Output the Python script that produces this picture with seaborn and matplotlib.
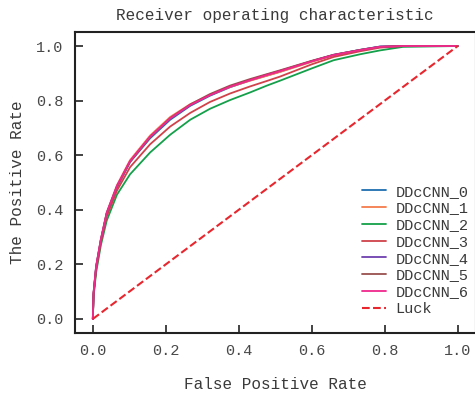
import numpy as np
import pandas as pd
import matplotlib
matplotlib.use("Agg")
import matplotlib.pyplot as plt
import seaborn as sns

# ---- data ----
fpr = [0, 0.002, 0.009, 0.022, 0.038, 0.066, 0.102, 0.157, 0.212, 0.267, 0.321,
       0.376, 0.431, 0.477, 0.513, 0.6, 0.66, 0.733, 0.787, 0.85, 1.0]

tpr_0 = [0, 0.092, 0.188, 0.288, 0.385, 0.482, 0.575, 0.662, 0.73, 0.781, 0.818,
         0.849, 0.874, 0.892, 0.906, 0.944, 0.967, 0.986, 0.998, 1.0, 1.0]
tpr_1 = [0, 0.094, 0.19, 0.292, 0.39, 0.49, 0.582, 0.672, 0.74, 0.787, 0.821,
         0.85, 0.873, 0.891, 0.905, 0.942, 0.966, 0.985, 0.997, 1.0, 1.0]
tpr_2 = [0, 0.08, 0.17, 0.27, 0.36, 0.455, 0.53, 0.61, 0.675, 0.73, 0.77,
         0.802, 0.83, 0.855, 0.873, 0.918, 0.948, 0.97, 0.984, 0.997, 1.0]
tpr_3 = [0, 0.09, 0.18, 0.28, 0.375, 0.47, 0.556, 0.64, 0.705, 0.755, 0.795,
         0.826, 0.852, 0.872, 0.888, 0.933, 0.96, 0.981, 0.994, 1.0, 1.0]
tpr_4 = [0, 0.095, 0.192, 0.29, 0.388, 0.486, 0.577, 0.667, 0.734, 0.783, 0.82,
         0.852, 0.876, 0.895, 0.909, 0.945, 0.968, 0.986, 0.998, 1.0, 1.0]
tpr_5 = [0, 0.09, 0.186, 0.286, 0.384, 0.483, 0.576, 0.666, 0.736, 0.786, 0.824,
         0.855, 0.879, 0.897, 0.911, 0.946, 0.968, 0.986, 0.997, 1.0, 1.0]
tpr_6 = [0, 0.096, 0.193, 0.291, 0.388, 0.486, 0.578, 0.668, 0.735, 0.784, 0.82,
         0.851, 0.875, 0.894, 0.908, 0.944, 0.967, 0.985, 0.997, 1.0, 1.0]

series_names = ["DDcCNN_0", "DDcCNN_1", "DDcCNN_2", "DDcCNN_3",
                "DDcCNN_4", "DDcCNN_5", "DDcCNN_6"]
series_tpr = [tpr_0, tpr_1, tpr_2, tpr_3, tpr_4, tpr_5, tpr_6]
series_colors = ["#1f6eb0", "#f47c4c", "#14a04a", "#d0424a",
                 "#7040b0", "#98504e", "#f0288c"]

luck_x = [0, 1]
luck_y = [0, 1]

title = "Receiver operating characteristic"
xlabel = "False Positive Rate"
ylabel = "The Positive Rate"

# ---- style ----
sns.set_theme(style="ticks")
plt.rcParams["font.family"] = ["Liberation Mono", "DejaVu Sans"]
plt.rcParams["text.color"] = "#3a3a3a"
plt.rcParams["axes.labelcolor"] = "#3a3a3a"
plt.rcParams["xtick.color"] = "#222222"
plt.rcParams["ytick.color"] = "#222222"
plt.rcParams["xtick.labelcolor"] = "#484848"
plt.rcParams["ytick.labelcolor"] = "#484848"

fig = plt.figure(figsize=(4.75, 3.95), dpi=100)
ax = fig.add_axes([0.157, 0.158, 0.845, 0.76])

for name, tpr, col in zip(series_names, series_tpr, series_colors):
    df = pd.DataFrame({"fpr": fpr, "tpr": tpr})
    sns.lineplot(data=df, x="fpr", y="tpr", color=col, lw=1.3, label=name,
                 ax=ax, sort=False, estimator=None)

sns.lineplot(x=luck_x, y=luck_y, color="#e8262e", lw=1.5, ls="--",
             label="Luck", ax=ax, sort=False, estimator=None)

ax.set_xlim(-0.05, 1.05)
ax.set_ylim(-0.05, 1.05)
ax.set_xticks([0, 0.2, 0.4, 0.6, 0.8, 1.0])
ax.set_yticks([0, 0.2, 0.4, 0.6, 0.8, 1.0])
ax.xaxis.set_major_formatter(matplotlib.ticker.FormatStrFormatter("%.1f"))
ax.yaxis.set_major_formatter(matplotlib.ticker.FormatStrFormatter("%.1f"))
ax.tick_params(direction="in", length=6, width=1.2, labelsize=11, pad=8)

for s in ax.spines.values():
    s.set_linewidth(1.5)
    s.set_color("#222222")

ax.set_title(title, fontsize=11.5, pad=9)
ax.set_xlabel(xlabel, fontsize=11.5, labelpad=14)
ax.set_ylabel(ylabel, fontsize=11.5, labelpad=8)

leg = ax.legend(loc="lower right", bbox_to_anchor=(1.0, 0.03), frameon=False,
                fontsize=11, handlelength=1.6, handletextpad=0.6,
                labelspacing=0.18, borderaxespad=0.1)

fig.savefig("out.png", dpi=100)
